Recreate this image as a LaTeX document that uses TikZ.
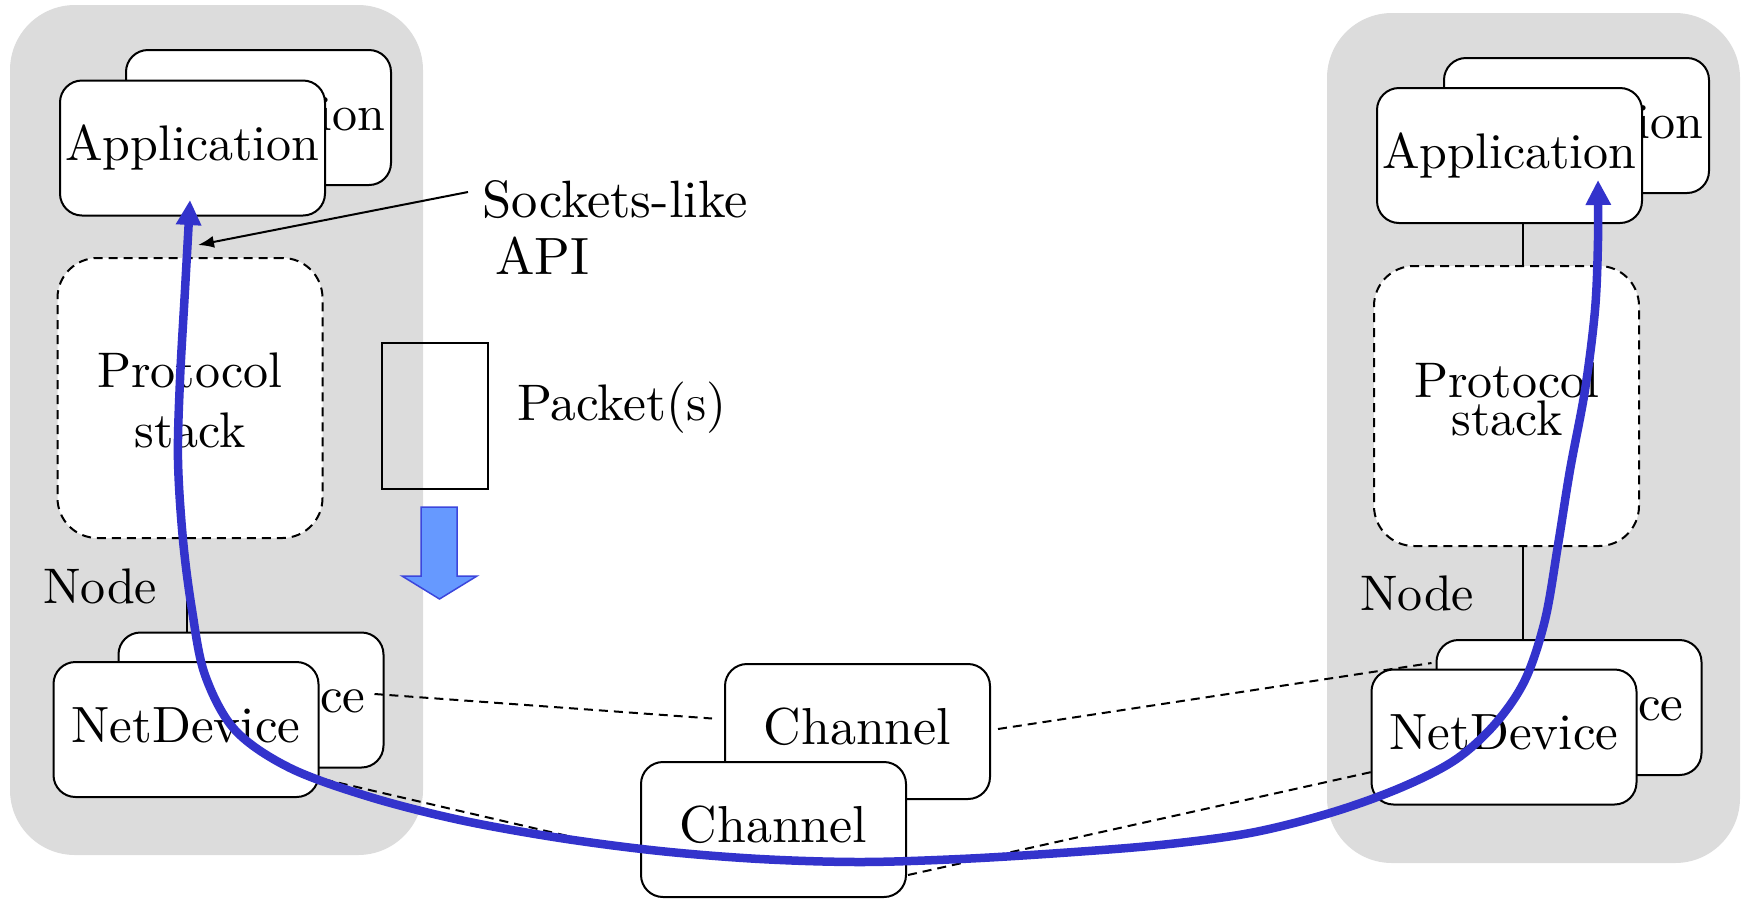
\documentclass[tikz,border=0pt]{standalone}
\usepackage{fontspec}
\setmainfont{lmroman10-regular.otf}
\usetikzlibrary{arrows.meta,calc}
\definecolor{panelgray}{RGB}{220,220,220}
\definecolor{flow}{RGB}{51,51,204}
\definecolor{pktfill}{RGB}{102,153,255}
\definecolor{pktline}{RGB}{60,70,220}
\newcommand\bigfont{\fontsize{50}{60}\selectfont}
\newcommand\tightfont{\fontsize{50}{38}\selectfont}
\newcommand\sz[1]{\fontsize{#1}{60}\selectfont}
\begin{document}
\begin{tikzpicture}[x=1pt,y=-1pt,
  panel/.style={fill=panelgray, rounded corners=65pt},
  box/.style={draw, line width=2pt, fill=white, rounded corners=22pt,
    minimum width=265pt, minimum height=135pt, inner sep=0pt,
    font=\bigfont, text height=35pt, text depth=10pt},
  stackbox/.style={draw, dash pattern=on 9pt off 6pt, line width=2pt, fill=white,
    rounded corners=40pt, minimum width=265pt, minimum height=280pt, inner sep=0pt},
  lbl/.style={font=\bigfont, inner sep=0pt},
  link/.style={line width=2pt, dash pattern=on 9pt off 6pt},
  wire/.style={line width=2pt},
  flowline/.style={draw=flow, line width=8.5pt,
    {Triangle[length=25pt,width=24pt]}-{Triangle[length=25pt,width=24pt]}}
]
\useasboundingbox (0,0) rectangle (1746,898);

% node panels
\fill[panel] (10,5) rectangle (423,855);
\fill[panel] (1327,13) rectangle (1740,863);

% left node
\node[box] (appLb) at (258.5,117.5) {Application};
\node[box] (appLf) at (192.5,148) {Application};
\node[stackbox] (psL) at (190,398) {};
\node[lbl, align=center, anchor=north] (psLt) at (190,353) {Protocol\\stack};
\node[box, font=\sz{51}] (ndLb) at (251,700) {NetDevice};
\node[box, font=\sz{51}] (ndLf) at (186,729.5) {NetDevice};
\node[lbl, anchor=base west] (nodeL) at (43,603) {Node};
\coordinate (vL) at (187,565);
\draw[wire] (vL) -- (vL |- ndLb.north);

% right node
\node[box] (appRb) at (1576.5,125.5) {Application};
\node[box] (appRf) at (1509.5,155.5) {Application};
\node[stackbox] (psR) at (1506.5,406) {};
\node[lbl, font=\tightfont, align=center, anchor=north] (psRt) at (1507,363) {Protocol\\stack};
\node[box, font=\sz{51}] (ndRb) at (1569,707.5) {NetDevice};
\node[box, font=\sz{51}] (ndRf) at (1504,737) {NetDevice};
\node[lbl, anchor=base west] (nodeR) at (1360,610) {Node};
\coordinate (vR) at (1523,0);
\draw[wire] (vR |- appRf.south) -- (vR |- psR.north);
\draw[wire] (vR |- psR.south) -- (vR |- ndRb.north);

% channels
\node[box, font=\sz{52}] (chb) at (857.5,731.5) {Channel};
\node[box, font=\sz{52}] (chf) at (773.5,829.5) {Channel};

% packet
\node[draw, line width=2pt, minimum width=106pt, minimum height=146pt, inner sep=0pt] (pkt) at (435,416) {};
\node[lbl, font=\sz{51.4}, anchor=base west] (pktlbl) at (517,420) {Packet(s)};
\filldraw[fill=pktfill, draw=pktline, line width=1.5pt]
  (421,507) -- (457,507) -- (457,576) -- (477,576) -- (439.5,599) -- (402,576) -- (421,576) -- cycle;

% sockets-like API
\node[lbl, font={\fontsize{52.5}{57}\selectfont}, align=left, anchor=north west] (api) at (482,180) {Sockets-like\\\hspace{13pt}API};
\coordinate (apiStart) at (468,192);
\coordinate (apiTip) at (198,245);
\draw[wire, -{Latex[length=16pt,width=12pt]}] (apiStart) -- (apiTip);

% links
\coordinate (lkEnd) at (585,840);
\draw[link] ($(ndLb.east)+(-10,-6)$) -- ($(chb.west)+(-12,-13)$);
\draw[link] ($(ndLf.south east)+(-10,-22)$) -- (lkEnd);
\draw[link] ($(chb.east)+(7,-2.5)$) -- ($(ndRb.west)+(-4,-44.5)$);
\draw[link] ($(chf.east)+(1,45.5)$) -- ($(ndRf.west)+(1,35)$);

% packet flow
\draw[flowline] plot[smooth, tension=0.55] coordinates {
  (190,200) (185,290) (180,380) (178,460) (183,540) (192,610) (205,675) (235,730)
  (290,768) (370,797) (460,820) (560,838) (660,851) (760,859) (860,862) (960,859)
  (1060,853) (1160,845) (1250,833) (1330,813) (1400,788) (1455,760) (1495,724)
  (1525,680) (1545,620) (1558,545) (1570,470) (1585,390) (1595,310) (1598,240) (1598,180)};
\end{tikzpicture}
\end{document}
